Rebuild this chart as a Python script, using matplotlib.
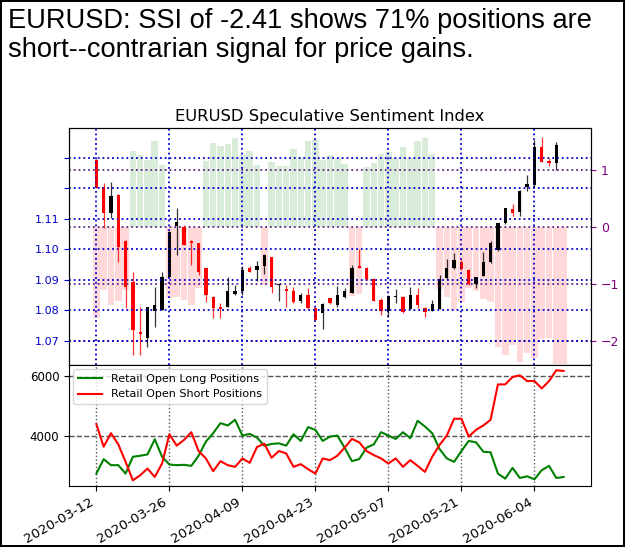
import matplotlib
matplotlib.use('Agg')
import matplotlib.pyplot as plt

# ==========================================
# 1. DATA
# ==========================================
HEADLINE = 'EURUSD: SSI of -2.41 shows 71% positions are\nshort--contrarian signal for price gains.'
TITLE = 'EURUSD Speculative Sentiment Index'

date_labels = ['2020-03-12', '2020-03-26', '2020-04-09', '2020-04-23',
               '2020-05-07', '2020-05-21', '2020-06-04']

price_open = [1.1293, 1.1206, 1.1119, 1.1179, 1.1028, 1.0894, 1.0730, 1.0709, 1.0799, 1.0802,
              1.0911, 1.1077, 1.1075, 1.1028, 1.1020, 1.0938, 1.0845, 1.0812, 1.0812, 1.0854,
              1.0862, 1.0938, 1.0933, 1.0944, 1.0974, 1.0884, 1.0870, 1.0862, 1.0832, 1.0849,
              1.0807, 1.0791, 1.0840, 1.0818, 1.0843, 1.0858, 1.0944, 1.0940, 1.0903, 1.0834,
              1.0799, 1.0845, 1.0845, 1.0805, 1.0849, 1.0809, 1.0799, 1.0805, 1.0906, 1.0938,
              1.0960, 1.0933, 1.0886, 1.0914, 1.0958, 1.0998, 1.1086, 1.1133, 1.1124, 1.1205,
              1.1211, 1.1335, 1.1290, 1.1283, 1.1343]
price_high = [1.1295, 1.1217, 1.1222, 1.1181, 1.1030, 1.0927, 1.0812, 1.0812, 1.0878, 1.0927,
              1.1060, 1.1135, 1.1080, 1.1030, 1.1022, 1.0940, 1.0847, 1.0824, 1.0908, 1.0884,
              1.0944, 1.0947, 1.0962, 1.0985, 1.0976, 1.0887, 1.0884, 1.0878, 1.0856, 1.0873,
              1.0810, 1.0823, 1.0842, 1.0881, 1.0873, 1.0949, 1.1002, 1.0942, 1.0905, 1.0840,
              1.0850, 1.0870, 1.0847, 1.0876, 1.0873, 1.0811, 1.0834, 1.0916, 1.0968, 1.0988,
              1.0970, 1.0935, 1.0911, 1.0991, 1.1026, 1.1088, 1.1137, 1.1148, 1.1195, 1.1244,
              1.1359, 1.1370, 1.1299, 1.1353, 1.1343]
price_low = [1.1201, 1.1069, 1.1104, 1.0960, 1.0807, 1.0654, 1.0654, 1.0681, 1.0747, 1.0800,
             1.0909, 1.0982, 1.1013, 1.0949, 1.0916, 1.0829, 1.0776, 1.0774, 1.0811, 1.0851,
             1.0851, 1.0925, 1.0897, 1.0919, 1.0856, 1.0831, 1.0812, 1.0824, 1.0824, 1.0805,
             1.0767, 1.0739, 1.0822, 1.0812, 1.0840, 1.0856, 1.0938, 1.0900, 1.0830, 1.0785,
             1.0780, 1.0824, 1.0791, 1.0803, 1.0809, 1.0780, 1.0797, 1.0803, 1.0904, 1.0936,
             1.0934, 1.0884, 1.0873, 1.0912, 1.0956, 1.0996, 1.1084, 1.1108, 1.1111, 1.1190,
             1.1206, 1.1285, 1.1272, 1.1261, 1.1341]
price_close = [1.1202, 1.1119, 1.1176, 1.1009, 1.0878, 1.0736, 1.0723, 1.0812, 1.0818, 1.0911,
               1.1058, 1.1091, 1.1015, 1.1020, 1.0927, 1.0851, 1.0807, 1.0805, 1.0865, 1.0862,
               1.0933, 1.0927, 1.0944, 1.0982, 1.0878, 1.0886, 1.0862, 1.0827, 1.0851, 1.0807,
               1.0769, 1.0821, 1.0824, 1.0849, 1.0862, 1.0940, 1.0940, 1.0903, 1.0832, 1.0799,
               1.0848, 1.0846, 1.0796, 1.0851, 1.0818, 1.0796, 1.0821, 1.0903, 1.0938, 1.0966,
               1.0936, 1.0886, 1.0909, 1.0960, 1.1020, 1.1086, 1.1135, 1.1119, 1.1193, 1.1214,
               1.1335, 1.1288, 1.1283, 1.1343, 1.1341]

ssi = [-1.61, -1.12, -1.37, -1.30, -1.12, 1.33, 1.26, 1.16, 1.50, 1.08,
       -1.25, -1.24, -1.29, -1.37, -1.07, 1.15, 1.46, 1.42, 1.45, 1.55,
       1.25, 1.33, 1.08, -1.02, 1.14, 1.07, 1.07, 1.37, 1.22, 1.51,
       1.52, 1.17, 1.25, 1.20, 1.10, -1.22, -1.18, 1.04, 1.12, 1.28,
       1.30, 1.20, 1.40, 1.21, 1.51, 1.56, 1.27, -1.10, -1.24, -1.46,
       -1.33, -1.08, -1.13, -1.28, -1.33, -2.12, -2.26, -2.07, -2.38, -2.22,
       -2.31, -1.98, -1.96, -2.41, -2.41]

long_positions = [2714, 3203, 2999, 2999, 2714, 3283, 3317, 3363, 3875, 3283,
                  3021, 2999, 3010, 2976, 3317, 3795, 4080, 4421, 4341, 4535,
                  4000, 4057, 3932, 3659, 3716, 3738, 3659, 4046, 3818, 4285,
                  4193, 3818, 3966, 4000, 3590, 3135, 3203, 3590, 3704, 4114,
                  4000, 3886, 4114, 3909, 4501, 4307, 4080, 3545, 3226, 3112,
                  3477, 3818, 3772, 3454, 3431, 2714, 2543, 2907, 2566, 2623,
                  2520, 2828, 2976, 2566, 2600]
short_positions = [4387, 3624, 4080, 3704, 3112, 2486, 2657, 2885, 2600, 3055,
                   4046, 3659, 3852, 4114, 3477, 3226, 2794, 3135, 2999, 2942,
                   3226, 3078, 3613, 3727, 3249, 3477, 3397, 2942, 3033, 2862,
                   2714, 3226, 3169, 3317, 3590, 3886, 3772, 3477, 3340, 3226,
                   3055, 3226, 2942, 3169, 2976, 2771, 3283, 3681, 4000, 4569,
                   4569, 3966, 4193, 4341, 4535, 5730, 5730, 5980, 6037, 5844,
                   5844, 5593, 5844, 6208, 6185]

# ==========================================
# 2. FIGURE LAYOUT
# ==========================================
x = list(range(len(price_open)))
tick_pos = list(range(0, 10 * len(date_labels), 10))

fig = plt.figure(figsize=(6.25, 5.47), dpi=100, linewidth=1.5, edgecolor='black')
fig.text(0.012, 0.985, HEADLINE, ha='left', va='top', fontsize=19.6,
         family='Liberation Sans', linespacing=1.15)

ax = fig.add_axes([0.1104, 0.3327, 0.8352, 0.4333])
ax2 = ax.twinx()
ax3 = fig.add_axes([0.1104, 0.1115, 0.8352, 0.2212], sharex=ax)

# SSI bars sit behind the candles
ax2.set_zorder(ax.get_zorder() - 1)
ax.patch.set_visible(False)

# ==========================================
# 3. SSI BARS (right axis)
# ==========================================
bar_colors = ['green' if v > 0 else 'red' for v in ssi]
ax2.bar(x, ssi, width=0.9, color=bar_colors, alpha=0.15, linewidth=0)
ax2.set_ylim(-2.43, 1.73)
ax2.set_yticks([-2, -1, 0, 1])
ax2.tick_params(axis='y', colors='purple', labelsize=9)
ax2.grid(True, axis='y', color='#5b2a86', linestyle=':', linewidth=1.3)

# ==========================================
# 4. CANDLES (left axis)
# ==========================================
for i in x:
    up = price_close[i] >= price_open[i]
    col = 'black' if up else 'red'
    ax.vlines(i, price_low[i], price_high[i], color=col, linewidth=0.9, alpha=0.8)
    body = max(abs(price_close[i] - price_open[i]), 0.0002)
    ax.bar(i, body, bottom=min(price_open[i], price_close[i]), width=0.45,
           color=col, linewidth=0)

ax.set_xlim(-3.75, 67.75)
ax.set_ylim(1.0621, 1.1398)
price_ticks = [1.07, 1.08, 1.09, 1.10, 1.11, 1.12, 1.13]
ax.set_yticks(price_ticks)
ax.set_yticklabels(['1.07', '1.08', '1.09', '1.10', '1.11', '', ''])
ax.tick_params(axis='y', colors='mediumblue', labelsize=8)
ax.tick_params(axis='x', labelbottom=False)
ax.set_xticks(tick_pos)
ax.grid(True, color='mediumblue', linestyle=':', linewidth=1.3)
ax.set_title(TITLE, fontsize=11.8, pad=5)

# ==========================================
# 5. RETAIL POSITIONS (bottom panel)
# ==========================================
ax3.plot(x, long_positions, color='green', linewidth=1.5, label='Retail Open Long Positions')
ax3.plot(x, short_positions, color='red', linewidth=1.5, label='Retail Open Short Positions')
ax3.set_ylim(2294, 6386)
ax3.set_yticks([4000, 6000])
ax3.set_xticks(tick_pos)
ax3.set_xticklabels(date_labels, rotation=30, ha='right', fontsize=9.6)
ax3.tick_params(axis='y', labelsize=8.5)
ax3.grid(True, axis='y', color='#555555', linestyle='--', linewidth=1)
ax3.grid(True, axis='x', color='#555555', linestyle=':', linewidth=1)
ax3.legend(loc='upper left', fontsize=8, handlelength=2.2, borderaxespad=0.4)

fig.savefig('out.png', dpi=100)
